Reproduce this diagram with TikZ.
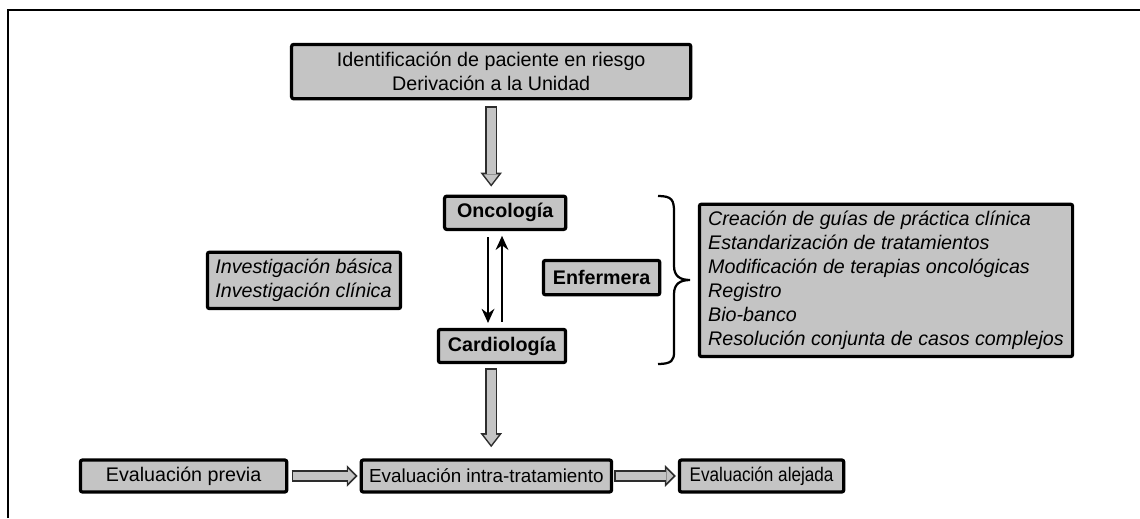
\documentclass[tikz,border=0pt]{standalone}
\usepackage{fontspec}
\setmainfont{Liberation Sans}
\newfontfamily\narrowsans[FakeStretch=0.87]{Liberation Sans}
\usetikzlibrary{arrows.meta}

\definecolor{boxgray}{RGB}{196,196,196}
\definecolor{edgegray}{RGB}{45,45,45}

\tikzset{
  box/.style={draw=black, line width=2.3pt, fill=boxgray, rounded corners=1.5pt,
    inner sep=0pt, align=center, font=\fontsize{14}{17}\selectfont},
  thinarrow/.style={line width=1.8pt, shorten <=0.15cm, shorten >=0.12cm,
    -{Stealth[length=10pt,width=9pt]}},
  fatout/.style={line width=0.3cm, draw=edgegray,
    -{Triangle[width=0.54cm,length=#1,line width=0pt]}},
  fatin/.style 2 args={line width=0.22cm, draw=boxgray, shorten <=0.04cm,
    shorten >=0.062cm, -{Triangle[width=#2,length=#1,line width=0pt]}},
  bracket/.style={line width=1.6pt},
}

\begin{document}
\begin{tikzpicture}

\useasboundingbox (0,0) rectangle (28.5,12.95);

% frame
\draw[line width=0.9pt] (0.2,0) -- (0.2,12.7) -- (28.5,12.7);

% Patient entry
\node[box, minimum width=9.98cm, minimum height=1.36cm] (top) at (12.28,11.16)
  {Identificación de paciente en riesgo\\Derivación a la Unidad};

% Services
\node[box, minimum width=3.03cm, minimum height=0.83cm, font=\fontsize{14}{17}\selectfont\bfseries] (onc) at (12.63,7.63) {Oncología};
\node[box, minimum width=3.18cm, minimum height=0.83cm, font=\fontsize{14}{17}\selectfont\bfseries] (card) at (12.55,4.3) {Cardiología};
\node[box, minimum width=2.91cm, minimum height=0.86cm, font=\fontsize{14}{17}\selectfont\bfseries] (enf) at (15.04,6.01) {Enfermera};

% Research
\node[box, minimum width=4.83cm, minimum height=1.41cm, align=left, font=\fontsize{14}{17}\selectfont\itshape] (inv) at (7.6,5.94)
  {Investigación básica\\Investigación clínica};

% Joint tasks
\node[box, minimum width=9.33cm, minimum height=3.81cm, align=left, font=\fontsize{14}{17}\selectfont\itshape] (tasks) at (22.15,5.94)
  {Creación de guías de práctica clínica\\
   Estandarización de tratamientos\\
   Modificación de terapias oncológicas\\
   Registro\\
   Bio-banco\\
   Resolución conjunta de casos complejos};

% Evaluation stages
\node[box, minimum width=5.16cm, minimum height=0.8cm] (prev) at (4.59,1.05) {Evaluación previa};
\node[box, minimum width=6.26cm, minimum height=0.8cm, font=\fontsize{13.4}{16}\selectfont] (intra) at (12.16,1.05) {Evaluación intra-tratamiento};
\node[box, minimum width=4.11cm, minimum height=0.8cm, font=\fontsize{14}{17}\narrowsans] (alej) at (19.04,1.05) {Evaluación alejada};

% Onc <-> Card
\draw[thinarrow] ([xshift=-0.43cm]onc.south) -- ([xshift=-0.43cm]onc.south |- card.north);
\draw[thinarrow] ([xshift=-0.08cm]onc.south |- card.north) -- ([xshift=-0.08cm]onc.south);

% bracket
\coordinate (bt) at (16.45,8.05);
\coordinate (bb) at (16.45,3.85);
\draw[bracket] (bt) .. controls (16.8,8.05) and (16.85,7.95) .. (16.85,7.65)
  -- (16.85,6.3) .. controls (16.85,6.05) and (17.0,5.95) .. (17.25,5.95)
  .. controls (17.0,5.95) and (16.85,5.85) .. (16.85,5.6)
  -- (16.85,4.15) .. controls (16.85,3.95) and (16.8,3.85) .. (bb);

% block arrows
\draw[fatout=0.35cm] ([yshift=-0.15cm]top.south) -- ([yshift=0.2cm]top.south |- onc.north);
\draw[fatin={0.244cm}{0.376cm}] ([yshift=-0.15cm]top.south) -- ([yshift=0.2cm]top.south |- onc.north);

\draw[fatout=0.35cm] ([yshift=-0.1cm]card.south -| top.south) -- ([yshift=0.28cm]intra.north -| top.south);
\draw[fatin={0.244cm}{0.376cm}] ([yshift=-0.1cm]card.south -| top.south) -- ([yshift=0.28cm]intra.north -| top.south);

\draw[fatout=0.27cm] ([xshift=0.08cm]prev.east) -- ([xshift=-0.05cm]intra.west);
\draw[fatin={0.173cm}{0.346cm}] ([xshift=0.08cm]prev.east) -- ([xshift=-0.05cm]intra.west);

\draw[fatout=0.27cm] ([xshift=0.03cm]intra.east) -- ([xshift=-0.05cm]alej.west);
\draw[fatin={0.173cm}{0.346cm}] ([xshift=0.03cm]intra.east) -- ([xshift=-0.05cm]alej.west);

\end{tikzpicture}
\end{document}
